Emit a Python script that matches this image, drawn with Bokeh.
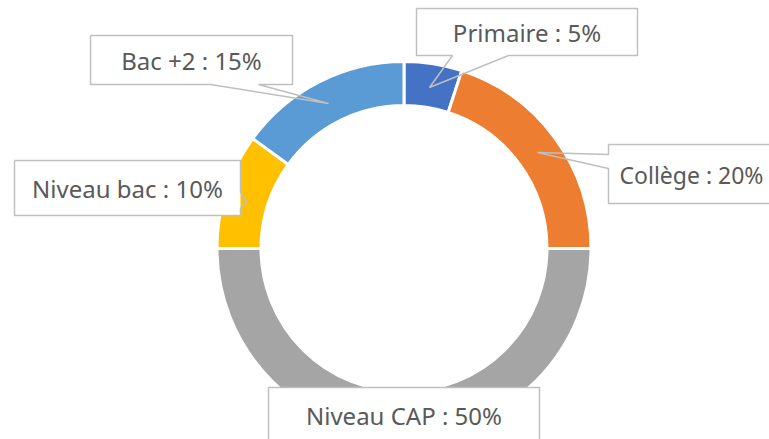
import math
from bokeh.plotting import figure
from bokeh.models import Range1d, ColumnDataSource
from bokeh.core.properties import value
from bokeh.embed import file_html
from bokeh.resources import INLINE

# ---- data ----
categories = ["Primaire", "Collège", "Niveau CAP", "Niveau bac", "Bac +2"]
shares = [5, 20, 50, 10, 15]
colors = ["#4472C4", "#ED7D31", "#A5A5A5", "#FFC000", "#5B9BD5"]
labels = [f"{c} : {v}%" for c, v in zip(categories, shares)]

W, H = 769, 439
def sy(y):
    return H - y

p = figure(width=W, height=H, output_backend="svg", toolbar_location=None,
           x_range=Range1d(0, W), y_range=Range1d(0, H), min_border=0)
p.axis.visible = False
p.grid.visible = False
p.outline_line_color = None
p.background_fill_color = "white"
p.border_fill_color = "white"

# ---- donut ----
cx, cy = 403.5, sy(248)
total = sum(shares)
starts, ends = [], []
cum = 0
for v in shares:
    starts.append(math.pi / 2 - 2 * math.pi * cum / total)
    cum += v
    ends.append(math.pi / 2 - 2 * math.pi * cum / total)
src = ColumnDataSource(dict(start=starts, end=ends, color=colors))
p.annular_wedge(x=cx, y=cy, inner_radius=143, outer_radius=187,
                start_angle="start", end_angle="end", direction="clock",
                fill_color="color", line_color="white", line_width=3, source=src)

# ---- callouts (screen-pixel layout) ----
boxes = {
    "Primaire": dict(box=(416, 8, 637, 55),
                     outline=[(416, 8), (637, 8), (637, 55), (508, 55), (429, 87), (452, 55), (416, 55)],
                     text=(526.5, 32), align="center", size="24px"),
    "Collège": dict(box=(608, 144, 800, 203),
                    outline=[(608, 144), (800, 144), (800, 203), (608, 203), (608, 168), (537, 152), (608, 154)],
                    text=(619, 174), align="left", size="23px"),
    "Niveau CAP": dict(box=(268, 387, 539, 460),
                       outline=[(268, 387), (539, 387), (539, 460), (268, 460)],
                       text=(403.5, 415), align="center", size="24px"),
    "Niveau bac": dict(box=(14, 160, 240, 215),
                       outline=[(14, 160), (240, 160), (240, 192), (246, 201), (240, 208), (240, 215), (14, 215)],
                       text=(127, 188), align="center", size="24px"),
    "Bac +2": dict(box=(90, 35, 292, 84),
                   outline=[(90, 35), (292, 35), (292, 84), (258, 84), (328, 103), (210, 84), (90, 84)],
                   text=(191, 60), align="center", size="24px"),
}

for cat, lab in zip(categories, labels):
    b = boxes[cat]
    x0, y0, x1, y1 = b["box"]
    p.quad(left=x0, right=x1, top=sy(y0), bottom=sy(y1), fill_color="white", line_color=None)
    xs = [pt[0] for pt in b["outline"]] + [b["outline"][0][0]]
    ys = [sy(pt[1]) for pt in b["outline"]] + [sy(b["outline"][0][1])]
    p.line(xs, ys, line_color="#BFBFBF", line_width=1.5)
    tx, ty = b["text"]
    p.text(x=[tx], y=[sy(ty)], text=[lab], text_align=b["align"], text_baseline="middle",
           text_font=value("Noto Sans"), text_font_size=b["size"], text_color="#595959")

open("out.html", "w").write(file_html(p, INLINE))
